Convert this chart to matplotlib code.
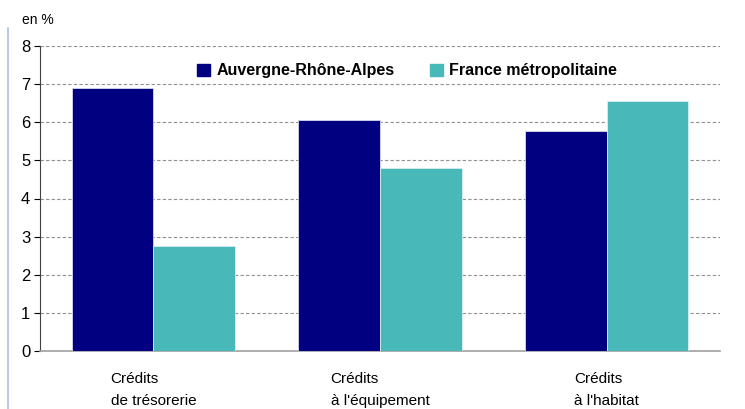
import matplotlib.pyplot as plt
import numpy as np
from matplotlib.lines import Line2D

categories = ["Crédits\nde trésorerie", "Crédits\nà l'équipement", "Crédits\nà l'habitat"]
aura = [6.9, 6.06, 5.77]
france = [2.75, 4.8, 6.56]
series_names = ["Auvergne-Rhône-Alpes", "France métropolitaine"]

plt.rcParams["font.family"] = ["Liberation Sans Narrow", "Liberation Sans", "DejaVu Sans"]

fig = plt.figure(figsize=(7.45, 4.09), dpi=100)
ax = fig.add_axes([40 / 745, 1 - 351 / 409, 680 / 745, 305 / 409])

x = np.arange(len(categories))
w = 0.36
ax.bar(x - w / 2, aura, w, color="#000080", edgecolor="#d8d8ee", linewidth=0.6, zorder=3)
ax.bar(x + w / 2, france, w, color="#48b8b8", edgecolor="#d8eeee", linewidth=0.6, zorder=3)

ax.set_xlim(-0.5, 2.5)
ax.set_ylim(0, 8)
ax.set_yticks(range(0, 9))
ax.tick_params(axis="y", labelsize=12, length=4, direction="out", pad=3)
ax.set_xticks([])
ax.grid(axis="y", linestyle=(0, (3, 2)), color="#909090", linewidth=0.8, zorder=0)

for s in ["top", "right"]:
    ax.spines[s].set_visible(False)
ax.spines["left"].set_color("#404040")
ax.spines["bottom"].set_color("#a0a0a0")
ax.spines["bottom"].set_linewidth(1.2)

for xi, lab in zip(x, categories):
    ax.text(xi, -0.55, lab, ha="center", va="top", multialignment="left",
            fontsize=11, linespacing=1.75)

fig.text(22 / 745, 1 - 20 / 409, "en %", fontsize=10, va="center")

# light blue frame line at the left
fig.add_artist(Line2D([8 / 745, 8 / 745], [0, 1 - 28 / 409], color="#a8c4e0", linewidth=1.2))

handles = [plt.Rectangle((0, 0), 1, 1, color="#000080"),
           plt.Rectangle((0, 0), 1, 1, color="#48b8b8")]
ax.legend(handles, series_names, loc="upper center", bbox_to_anchor=(0.54, 0.99), ncol=2,
          frameon=False, prop={"weight": "bold", "size": 11.5}, handlelength=0.8,
          handleheight=0.8, handletextpad=0.4, columnspacing=2.2)

fig.savefig("out.png", dpi=100)
